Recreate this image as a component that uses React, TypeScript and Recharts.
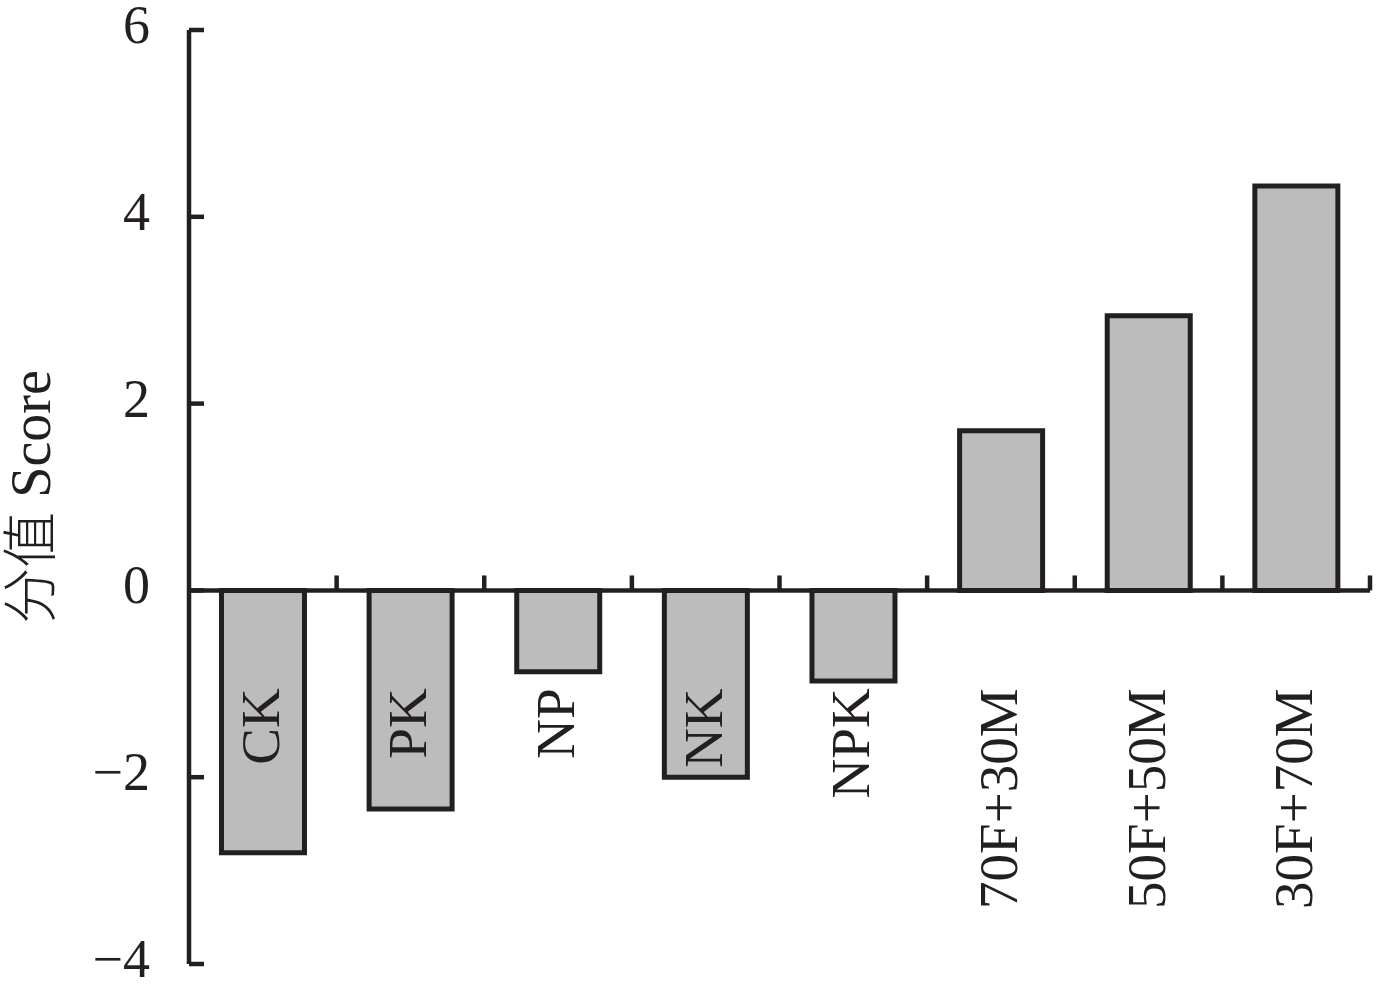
import { BarChart, Bar, XAxis, YAxis, ReferenceLine, ReferenceDot } from 'recharts';

const treatments = ['CK', 'PK', 'NP', 'NK', 'NPK', '70F+30M', '50F+50M', '30F+70M'];
const scores = [-2.81, -2.34, -0.87, -2.0, -0.97, 1.71, 2.94, 4.33];
const yTicks = [-4, -2, 0, 2, 4, 6];
const boundaries = [1, 2, 3, 4, 5, 6, 7, 8];

const data = treatments.map((name, i) => ({ name, score: scores[i], pos: i + 0.5 }));

const INK = '#231f20';
const SERIF = '"Liberation Serif", "Times New Roman", serif';

const fmt = (v: number) => (v < 0 ? `\u2212${-v}` : `${v}`);

function YTick(props: any) {
  const { x, y, payload } = props;
  return (
    <text x={x} y={y + 13} textAnchor="end" fontFamily={SERIF} fontSize={54} fill={INK}>
      {fmt(payload.value)}
    </text>
  );
}

function CatLabel(name: string) {
  return (props: any) => {
    const { cx, cy } = props;
    return (
      <text
        transform={`translate(${cx + 16}, ${cy + 98}) rotate(-90)`}
        textAnchor="end"
        fontFamily={SERIF}
        fontSize={55}
        fill={INK}
      >
        {name}
      </text>
    );
  };
}

function YLabel(props: any) {
  const { viewBox } = props;
  const cy = viewBox.y + viewBox.height / 2;
  return (
    <text
      transform={`translate(50, ${cy}) rotate(-90)`}
      textAnchor="middle"
      fontFamily={SERIF}
      fontSize={56}
      fill={INK}
    >
      <tspan fontFamily='"Noto Sans CJK SC", sans-serif' fontWeight={300}>分值</tspan> Score
    </text>
  );
}

export default function App() {
  return (
    <div style={{ position: 'absolute', left: 0, top: 0, width: 1378, height: 984, background: '#fff' }}>
      <BarChart
        width={1378}
        height={984}
        data={data}
        margin={{ top: 30, right: 8, bottom: 20, left: 0 }}
        barCategoryGap="22%"
      >
        <XAxis dataKey="name" hide />
        <XAxis xAxisId="n" dataKey="pos" type="number" domain={[0, 8]} allowDataOverflow hide />
        <YAxis
          domain={[-4, 6]}
          ticks={yTicks}
          width={189}
          axisLine={{ stroke: INK, strokeWidth: 4.5 }}
          tickLine={{ stroke: INK, strokeWidth: 4.5 }}
          tickSize={-15}
          tickMargin={54}
          tick={<YTick />}
          interval={0}
          label={<YLabel />}
        />
        <Bar dataKey="score" fill="#bcbcbc" stroke={INK} strokeWidth={5} isAnimationActive={false} />
        <ReferenceLine y={0} stroke={INK} strokeWidth={4.5} />
        {boundaries.map((b) => (
          <ReferenceLine
            key={b}
            xAxisId="n"
            segment={[{ x: b, y: 0 }, { x: b, y: 0.16 }]}
            stroke={INK}
            strokeWidth={4.5}
            ifOverflow="visible"
          />
        ))}
        {treatments.map((t) => (
          <ReferenceDot key={t} x={t} y={0} shape={CatLabel(t)} />
        ))}
      </BarChart>
    </div>
  );
}
